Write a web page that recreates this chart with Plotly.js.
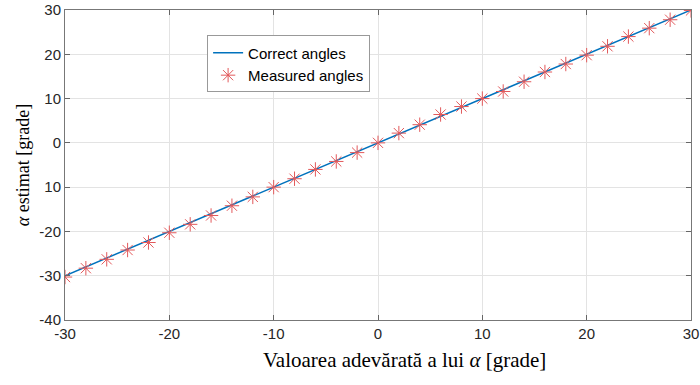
<!DOCTYPE html>
<html>
<head>
<meta charset="utf-8">
<script src="https://cdn.plot.ly/plotly-3.0.1.min.js"></script>
<style>body{margin:0;padding:0;background:#fff}#chart{width:700px;height:385px}</style>
</head>
<body>
<div id="chart"></div>
<script>
const trueAngles = [-30,-28,-26,-24,-22,-20,-18,-16,-14,-12,-10,-8,-6,-4,-2,0,2,4,6,8,10,12,14,16,18,20,22,24,26,28,30];
const correctAngles = [-30,-28,-26,-24,-22,-20,-18,-16,-14,-12,-10,-8,-6,-4,-2,0,2,4,6,8,10,12,14,16,18,20,22,24,26,28,30];
const measuredAngles = [-30.3,-28.3,-26.3,-24.2,-22.5,-20.3,-18.4,-16.4,-14.2,-12.2,-10.0,-8.1,-6.0,-4.2,-2.2,0.0,2.2,4.1,6.4,8.2,10.0,11.6,13.8,16.0,17.8,19.8,21.8,24.0,25.9,27.8,29.9];
const xTickVals = [-30,-20,-10,0,10,20,30];
const xTickText = ['-30','-20','-10','0','10','20','30'];
const yTickVals = [-40,-30,-20,-10,0,10,20,30];
const yTickText = ['-40','-30','-20','10','0','10','20','30'];
const xTitle = 'Valoarea adevărată a lui <i>α</i> [grade]';
const yTitle = '<i>α</i> estimat [grade]';

const traces = [
  {x: trueAngles, y: correctAngles, mode: 'lines', name: 'Correct angles',
   line: {color: '#0072BD', width: 1.5}},
  {x: trueAngles, y: measuredAngles, mode: 'markers', name: 'Measured angles',
   marker: {symbol: 'asterisk-open', size: 12, color: '#e2595b', line: {color: '#e2595b', width: 1}}}
];

const axisCommon = {
  ticks: 'inside', ticklen: 5, tickcolor: '#666', tickwidth: 1,
  showline: true, linecolor: '#777', linewidth: 1, mirror: 'ticks',
  showgrid: true, gridcolor: '#e3e3e3', gridwidth: 1, zeroline: false,
  tickfont: {family: 'Liberation Sans, Arial, sans-serif', size: 15, color: '#262626'}
};

const layout = {
  width: 700, height: 385,
  margin: {l: 65, r: 9, t: 10, b: 65},
  paper_bgcolor: '#fff', plot_bgcolor: '#fff',
  showlegend: true,
  legend: {x: 0.227, y: 0.918, xanchor: 'left', yanchor: 'top',
    bgcolor: '#fff', bordercolor: '#999', borderwidth: 1,
    font: {family: 'Liberation Sans, Arial, sans-serif', size: 15, color: '#000'},
    itemwidth: 30, tracegroupgap: 0},
  xaxis: Object.assign({}, axisCommon, {
    range: [-30, 30], tickvals: xTickVals, ticktext: xTickText
  }),
  yaxis: Object.assign({}, axisCommon, {
    range: [-40, 30], tickvals: yTickVals, ticktext: yTickText,
    title: {text: yTitle, standoff: 5,
      font: {family: 'Liberation Serif, Times New Roman, serif', size: 18, color: '#000'}}
  }),
  annotations: [{
    text: xTitle, xref: 'paper', yref: 'paper', x: 0.543, y: -0.129,
    xanchor: 'center', yanchor: 'middle', showarrow: false,
    font: {family: 'Liberation Serif, Times New Roman, serif', size: 21, color: '#000'}
  }]
};

Plotly.newPlot('chart', traces, layout, {displayModeBar: false, staticPlot: true});
</script>
</body>
</html>
